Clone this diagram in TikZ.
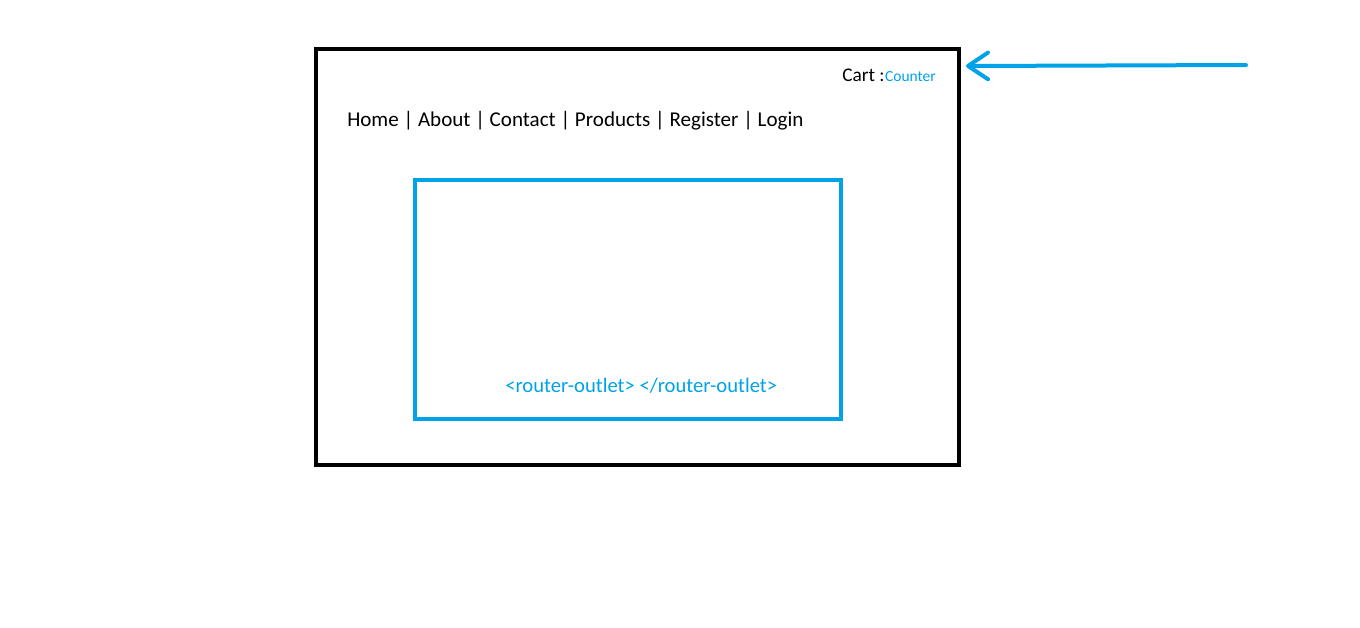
\documentclass[tikz,border=0pt]{standalone}
\usepackage{fontspec}
\setmainfont{Carlito}
\usetikzlibrary{arrows.meta}
\definecolor{paintblue}{HTML}{00A2E8}

\begin{document}
\begin{tikzpicture}[x = 0.75pt, y = -0.75pt,
                      frame/.style = {draw, line width = 3pt, inner sep = 0pt, minimum width = 482.25pt, minimum height = 312pt},
                      outletbox/.style = {draw = paintblue, line width = 3pt, inner sep = 0pt, minimum width = 319.5pt, minimum height = 179.25pt},
                      txt/.style = {anchor = base west, inner sep = 0pt, font = \fontsize{15.8pt}{18pt}\selectfont},
                      wire/.style = {draw = paintblue, line width = 3pt, line cap = round, -{Straight Barb[length = 15pt, width = 20pt, round]}}]
    \useasboundingbox (0, 0) rectangle (1360, 628);

    \node [frame] (page) at (637.5, 257){};
    \node [outletbox] (outlet) at (628, 299.5){};

    \node [txt] (nav) at (347, 126){Home | About | Contact | Products | Register | Login};
    \node [txt, font = \fontsize{14.5pt}{17pt}\selectfont] (cart) at (842, 81){Cart :};
    \node [txt, text = paintblue, font = \fontsize{11.6pt}{13pt}\selectfont] (counter) at (cart.base east){Counter};
    \node [txt, text = paintblue, font = \fontsize{15.5pt}{18pt}\selectfont] (router) at (505, 392){<router-outlet> </router-outlet>};

    % arrow into the cart counter
    \coordinate (src) at (1246, 65);
    \coordinate (tip) at (966, 66);
    \draw [wire] (src) -- (tip);
\end{tikzpicture}
\end{document}
